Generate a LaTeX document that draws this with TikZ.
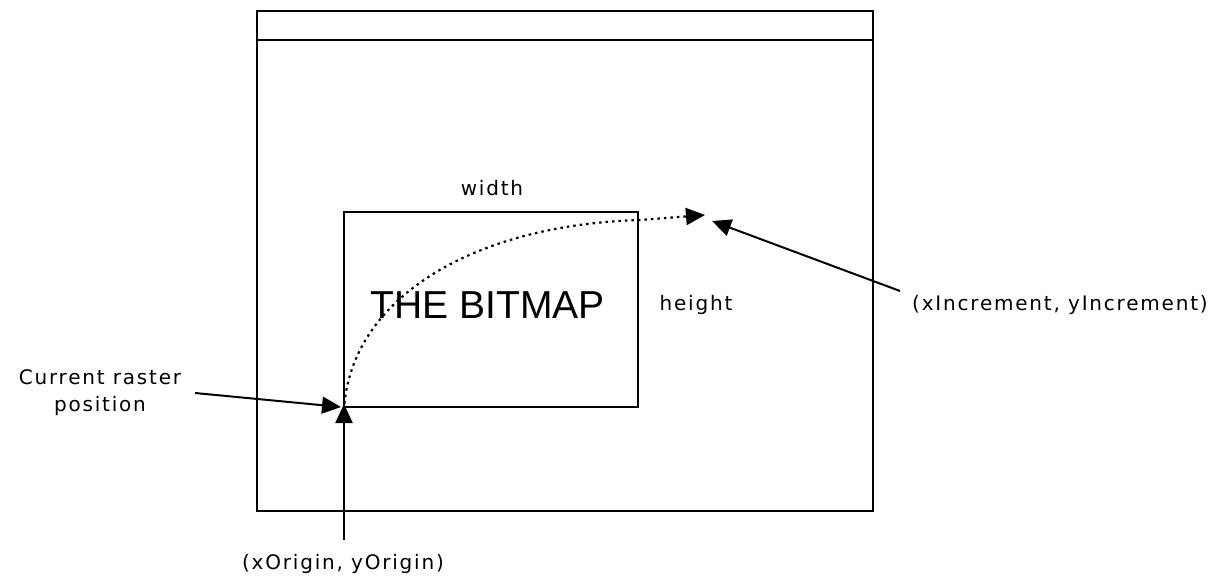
\documentclass[tikz,border=0pt]{standalone}
\usepackage{fontspec}
\setmainfont{Liberation Sans}
\newfontfamily\lblfont[LetterSpace=9]{DejaVu Sans}
\usetikzlibrary{arrows.meta}
\begin{document}
\begin{tikzpicture}[x=1pt,y=-1pt,
  box/.style={draw,line width=2.2pt},
  lbl/.style={font=\lblfont\fontsize{20}{27}\selectfont,inner sep=1pt},
  tip/.style={-{Triangle[length=19pt,width=17pt]}},
  arr/.style={line width=2pt,tip}]
\useasboundingbox (0,0) rectangle (1217,578);
% window
\draw[box] (257,11) rectangle (873,511);
\draw[box] (257,40) -- (873,40);
% bitmap
\draw[box] (344,212) rectangle (638,407);
\coordinate (org) at (344,407);
\coordinate (inc) at (705,215);
\node[font=\fontsize{39}{42}\selectfont] (bm) at (488,305) {THE BITMAP};
\node[lbl] (w) at (492,188) {width};
\node[lbl] (h) at (696,305) {height};
\node[lbl,anchor=west] (xi) at (911,305) {(xIncrement, yIncrement)};
\node[lbl,align=center] (crp) at (100,393) {Current raster\\position};
\node[lbl] (xo) at (343,564) {(xOrigin, yOrigin)};
\coordinate (crpe) at (195,393);
\coordinate (xoe) at (344,540);
\coordinate (xie) at (900,291);
\coordinate (inc2) at (712,221);
\draw[arr] (crpe) -- ([xshift=-3pt]org);
\draw[arr] (xoe) -- ([yshift=3pt]org);
\draw[arr] (xie) -- (inc2);
\draw[line width=2.2pt,dash pattern=on 2.5pt off 4pt,tip]
  ([yshift=-3pt]org) .. controls (350,300) and (470,225) .. (640,220) -- (inc);
\end{tikzpicture}
\end{document}
